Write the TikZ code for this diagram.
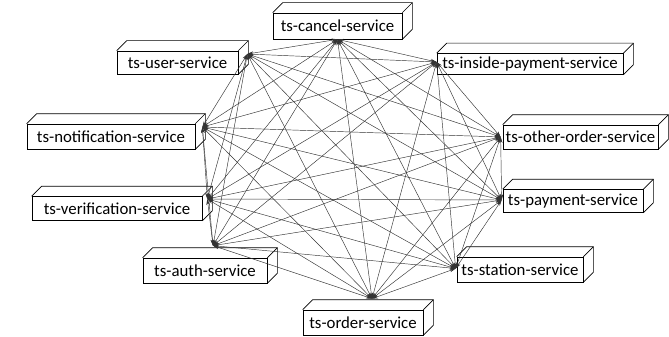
\documentclass[tikz,border=0pt]{standalone}
\usepackage{fontspec}
\setmainfont{Carlito}
\usetikzlibrary{arrows.meta,calc}
\tikzset{
  svc/.style={draw, line width=0.7pt, fill=white, inner sep=0pt, align=center,
    font=\fontsize{16.8}{18}\selectfont},
  depth/.style={draw, line width=0.7pt},
  link/.style={line width=0.45pt, black!80,
    {Stealth[length=6pt,width=3.5pt]}-{Stealth[length=6pt,width=3.5pt]}}
}
% draws the top and side faces of a box node
\newcommand{\boxfaces}[1]{%
  \draw[depth] (#1.north west) -- ++(10,-10) -- ($(#1.north east)+(10,-10)$)
    -- ($(#1.south east)+(10,-10)$) -- (#1.south east);
  \draw[depth] (#1.north east) -- ++(10,-10);
}
\begin{document}
\begin{tikzpicture}[x=1pt,y=-1pt]
\useasboundingbox (0,0) rectangle (669,337);
\fill[white] (0,0) rectangle (669,337);

% service boxes (front faces)
\node[svc, minimum width=129pt, minimum height=26pt] (cancel) at (337.5,26) {ts-cancel-service};
\node[svc, minimum width=121pt, minimum height=23pt] (user) at (177.5,62.5) {ts-user-service};
\node[svc, minimum width=186pt, minimum height=21pt] (inside) at (530,64) {ts-inside-payment-service};
\node[svc, minimum width=168pt, minimum height=25pt] (notif) at (111,136.5) {ts-notification-service};
\node[svc, minimum width=170pt, minimum height=24pt] (verif) at (117,208.5) {ts-verification-service};
\node[svc, minimum width=155pt, minimum height=24pt] (other) at (580.5,137) {ts-other-order-service};
\node[svc, minimum width=140pt, minimum height=23pt] (payment) at (573,201) {ts-payment-service};
\node[svc, minimum width=124pt, minimum height=25pt] (auth) at (205,270.5) {ts-auth-service};
\node[svc, minimum width=120pt, minimum height=25pt] (order) at (363,322.5) {ts-order-service};
\node[svc, minimum width=126pt, minimum height=25pt] (station) at (520,269.5) {ts-station-service};

\foreach \n in {cancel,user,inside,notif,verif,other,payment,auth,order,station}
  \boxfaces{\n};

% connection points
\coordinate (cancel-a) at (cancel.south);
\coordinate (user-a) at ($(user.east)+(9,-8.5)$);
\coordinate (inside-a) at ($(inside.west)+(0,-2)$);
\coordinate (notif-a) at ($(notif.east)+(7,-9.5)$);
\coordinate (verif-a) at ($(verif.east)+(5,-9.5)$);
\coordinate (auth-a) at ($(auth.north)+(8,-12)$);
\coordinate (order-a) at ($(order.north)+(9,-11)$);
\coordinate (station-a) at ($(station.west)+(-1,-1)$);
\coordinate (payment-a) at ($(payment.west)+(-1,-1)$);
\coordinate (other-a) at ($(other.west)+(-2,0)$);

% every service is linked with every other one
\foreach \a [count=\i] in {cancel,inside,other,payment,station,order,auth,verif,notif,user}{
  \foreach \b [count=\j] in {cancel,inside,other,payment,station,order,auth,verif,notif,user}{
    \ifnum\j>\i
      \draw[link] (\a-a) -- (\b-a);
    \fi
  }
}
\end{tikzpicture}
\end{document}
